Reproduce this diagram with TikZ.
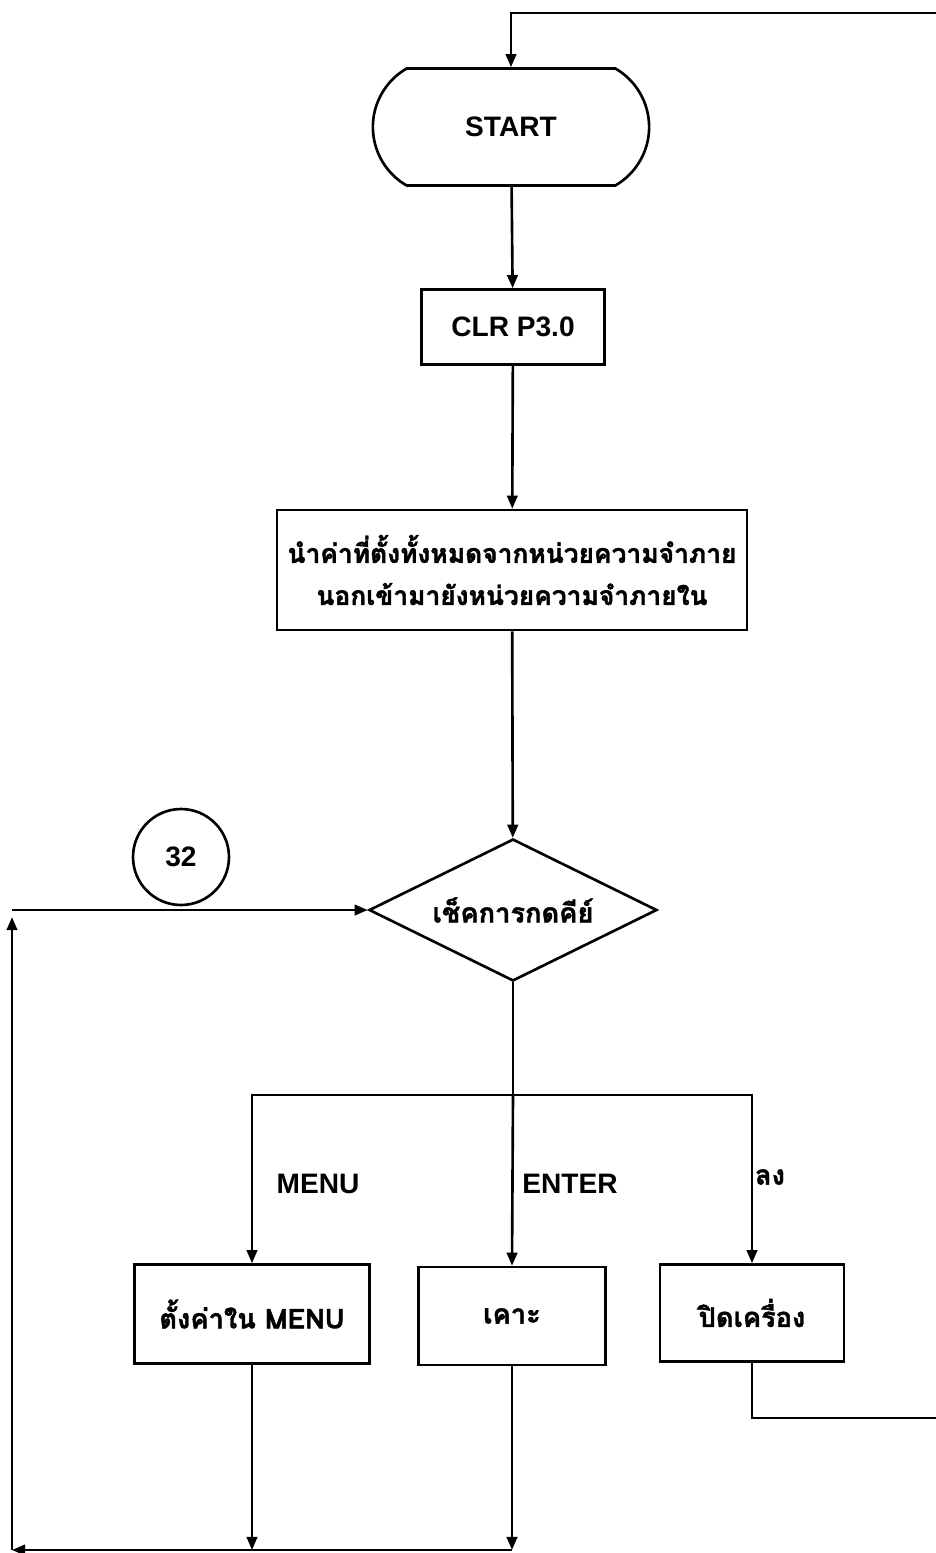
\documentclass[tikz,border=0pt]{standalone}
\usepackage{fontspec}
\setmainfont{Liberation Sans}
\newfontfamily\thaifont[Script=Thai, FakeBold=1.5]{Loma}
\usepackage{tikz}
\usetikzlibrary{shapes.geometric, shapes.misc, arrows.meta, positioning}

\begin{document}
\begin{tikzpicture}[x=0.02cm, y=-0.02cm, line width=1.5pt,
                    every node/.style={font=\fontsize{16}{20}\selectfont\bfseries},
                    thai/.style={font=\fontsize{15.5}{20}\selectfont\bfseries\thaifont},
                    flowbox/.style={draw, rectangle, align=center},
                    arr/.style={-{Triangle[length=7.5pt, width=6pt]}}]
                    \useasboundingbox (0, 0) rectangle (936, 1553);
                    \node[draw, rounded rectangle, rounded rectangle arc length=120,
                          minimum width=5.76cm, minimum height=2.34cm] (start) at (511, 127) {START};
                    \node[flowbox, minimum width=3.66cm, minimum height=1.5cm] (clr) at (513, 327) {CLR P3.0};
                    \node[flowbox, thai, font=\fontsize{15}{20}\selectfont\bfseries\thaifont, inner xsep=1pt,
                          minimum width=9.4cm, minimum height=2.4cm] (load) at (512, 570)
                        {นำค่าที่ตั้งทั้งหมดจากหน่วยความจำภาย\\[4pt]นอกเข้ามายังหน่วยความจำภายใน};
                    \node[draw, diamond, thai, aspect=2, inner sep=0pt,
                          minimum width=5.76cm, minimum height=2.84cm] (check) at (513, 910) {เช็คการกดคีย์};
                    \node[draw, circle, minimum size=1.92cm, inner sep=0pt] (c32) at (181, 857) {32};
                    \node[flowbox, thai, minimum width=4.7cm, minimum height=1.98cm] (menu) at (252, 1314) {ตั้งค่าใน MENU};
                    \node[flowbox, thai, minimum width=3.74cm, minimum height=1.96cm] (tap) at (512, 1316) {เคาะ};
                    \node[flowbox, thai, minimum width=3.68cm, minimum height=1.94cm] (off) at (752, 1313) {ปิดเครื่อง};
                    \node (lmenu) at (318, 1184) {MENU};
                    \node (lenter) at (570, 1184) {ENTER};
                    \node[thai] (ldown) at (770, 1177) {ลง};
                    \coordinate (topright) at (936, 13);
                    \coordinate (split) at (513, 1095);
                    \coordinate (offend) at (936, 1418);
                    \coordinate (bottom) at (12, 1550);
                    \coordinate (leftup) at (12, 910);
                    \draw[arr] (topright) -| (start.north);
                    \draw[arr] (start) -- (clr);
                    \draw[arr] (clr) -- (load);
                    \draw[arr] (load) -- (check);
                    \draw (check.south) -- (split);
                    \draw[arr] (split) -| (menu.north);
                    \draw[arr] (split) -- (tap.north);
                    \draw[arr] (split) -| (off.north);
                    \draw (off.south) |- (offend);
                    \draw[arr] (menu.south) -- (menu.south |- bottom);
                    \draw[arr] (tap.south) -- (tap.south |- bottom);
                    \draw[arr] (tap.south |- bottom) -- (bottom);
                    \draw[arr, shorten >=1pt] (bottom) -- ([yshift=-3pt]leftup);
                    \draw[arr] (leftup) -- (check.west);
\end{tikzpicture}
\end{document}
